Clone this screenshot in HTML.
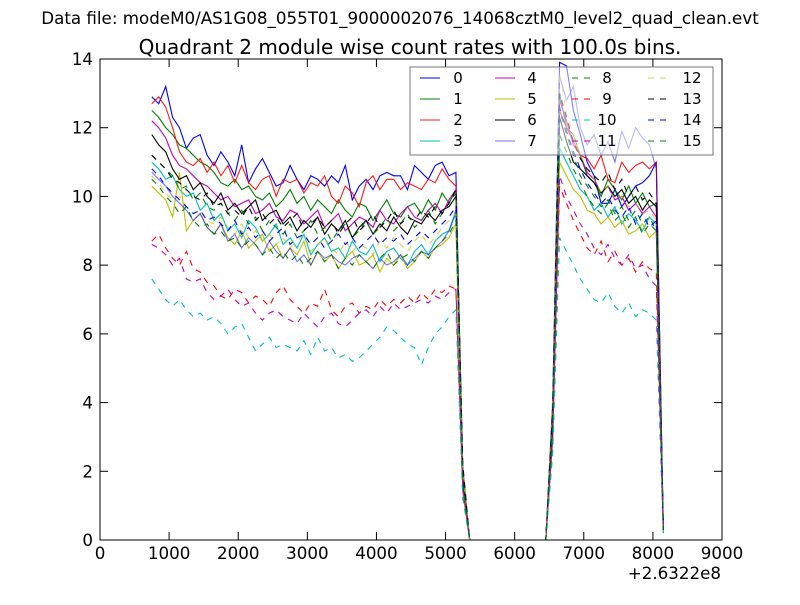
<!DOCTYPE html>
<html><head><meta charset="utf-8"><style>
body{margin:0;background:#fff;}
svg text{font-family:"DejaVu Sans","Liberation Sans",sans-serif;}
</style></head><body>
<svg id="chart" width="800" height="600" xmlns="http://www.w3.org/2000/svg">
<rect width="800" height="600" fill="#fff"/>
<text x="400" y="24" font-size="16.7" text-anchor="middle">Data file: modeM0/AS1G08_055T01_9000002076_14068cztM0_level2_quad_clean.evt</text>
<text x="410" y="54" font-size="20" text-anchor="middle">Quadrant 2 module wise count rates with 100.0s bins.</text>
<g id="plot"></g>
<rect x="100" y="59" width="622" height="481" fill="none" stroke="#000" stroke-width="1"/>
<text x="721" y="579" font-size="16.7" text-anchor="end">+2.6322e8</text>
<g id="legend"></g>
</svg>
<script>
const times=[750,850,950,1050,1150,1250,1350,1450,1550,1650,1750,1850,1950,2050,2150,2250,2350,2450,2550,2650,2750,2850,2950,3050,3150,3250,3350,3450,3550,3650,3750,3850,3950,4050,4150,4250,4350,4450,4550,4650,4750,4850,4950,5050,5150,5250,5350,5450,5550,5650,5750,5850,5950,6050,6150,6250,6350,6450,6550,6650,6750,6850,6950,7050,7150,7250,7350,7450,7550,7650,7750,7850,7950,8050,8150];
const zeros=[0,0,0,0,0,0,0,0,0,0,0,0];
const dropV=[1.8,1.6,2.1,1.5,1.9,1.4,1.7,1.6,2.0,1.3,1.2,1.5,1.9,2.2,1.7,1.6];
const riseV=[4.0,3.5,3.8,3.0,3.6,2.9,3.4,3.9,3.7,2.8,2.5,3.0,4.2,3.8,3.6,3.3];
const endV=[0.3,0.4,0.3,0.2,0.3,0.2,0.3,0.4,0.5,0.3,0.2,0.3,0.4,0.3,0.4,0.3];
const pre=[
[12.9,12.7,13.2,12.3,12.0,11.4,11.7,11.8,11.2,10.9,11.3,11.0,10.6,11.5,10.4,10.8,11.1,10.7,10.3,10.4,10.9,10.5,10.2,10.6,10.5,10.3,10.6,10.4,10.9,9.9,10.3,10.5,10.2,10.6,10.7,10.6,10.6,10.2,10.9,10.7,10.5,10.9,11.0,10.6,10.7],
[12.5,12.3,12.0,11.8,11.5,11.4,11.2,11.0,10.9,10.7,10.4,10.3,10.5,10.2,10.3,10.0,9.9,10.1,9.7,9.9,10.2,9.8,10.0,9.6,9.9,9.7,9.5,9.9,9.6,9.4,9.8,9.7,9.3,9.6,9.9,9.5,9.4,9.7,9.8,9.5,9.9,9.6,10.1,9.8,10.2],
[12.7,12.9,12.6,12.0,11.3,11.0,10.9,11.1,10.7,11.0,10.6,10.9,10.4,10.9,10.4,10.2,10.5,10.6,10.0,10.5,10.4,10.5,10.1,10.4,10.3,10.6,10.0,9.8,10.3,10.1,9.7,10.4,10.6,10.2,10.5,10.5,10.2,10.4,10.3,10.2,10.5,10.4,10.8,10.5,10.3],
[11.0,10.8,10.5,10.6,10.2,10.0,10.1,9.6,9.8,9.3,9.5,9.0,9.2,8.8,9.3,9.1,8.7,8.9,9.2,8.6,8.8,8.5,8.9,8.3,8.6,8.8,8.4,8.5,8.2,8.7,8.4,8.3,8.6,8.1,8.4,8.5,8.2,8.0,8.4,8.6,8.3,8.7,8.9,9.0,9.5],
[12.2,12.0,11.7,11.2,10.9,10.8,10.6,10.4,10.3,10.1,9.9,10.0,9.7,9.8,9.9,9.5,9.6,9.8,9.4,9.3,9.6,9.5,9.2,9.4,9.6,9.1,9.3,9.5,9.0,9.2,9.4,9.3,9.1,9.6,9.3,9.2,9.5,9.7,9.4,9.3,9.6,9.8,9.5,9.9,10.2],
[10.3,10.1,9.9,9.4,10.7,9.0,9.3,9.5,9.1,8.9,9.2,8.8,8.6,9.0,8.5,8.7,8.9,8.4,8.6,8.2,8.5,8.3,8.7,8.0,8.4,8.1,8.3,7.9,8.2,8.4,8.0,8.1,8.3,7.8,8.2,8.0,8.3,7.9,8.1,8.4,8.2,8.5,8.6,8.8,9.2],
[11.8,11.5,11.3,10.8,10.5,10.6,10.2,10.4,10.0,9.8,10.1,9.6,9.8,9.5,9.7,9.9,9.3,9.5,9.6,9.2,9.4,9.0,9.3,9.1,9.4,8.9,9.2,9.0,9.3,8.8,9.1,9.3,8.9,9.2,9.0,9.4,9.1,8.9,9.3,9.2,9.5,9.3,9.6,9.7,10.0],
[10.7,10.5,10.3,10.0,9.8,9.6,9.3,9.5,9.1,8.9,9.2,8.7,8.9,8.5,8.8,8.6,8.3,8.7,8.4,8.2,8.5,8.1,8.3,8.0,8.4,8.2,8.3,8.1,8.0,8.2,8.3,8.1,7.9,8.2,8.0,8.1,8.3,8.0,8.2,8.4,8.3,8.5,8.7,9.0,9.6],
[11.2,11.0,10.8,10.6,10.2,10.3,9.9,10.1,9.7,9.6,9.8,9.5,9.3,9.6,9.2,9.4,9.0,9.3,9.1,8.9,9.2,8.8,9.0,9.3,8.9,9.1,8.7,9.0,9.2,8.8,9.0,9.3,8.9,9.1,9.4,9.0,9.2,9.5,9.1,9.3,9.6,9.2,9.5,9.8,10.1],
[8.7,8.9,8.5,8.2,8.0,8.4,7.9,7.8,7.5,7.4,7.1,7.0,7.3,7.2,6.9,7.1,7.0,6.8,7.2,7.4,7.0,6.8,6.6,6.9,6.8,7.3,6.7,6.5,6.8,6.9,6.6,6.8,6.7,7.0,6.8,7.0,6.9,7.1,6.9,7.2,7.0,7.3,7.2,7.4,7.3],
[7.6,7.3,7.0,6.8,7.0,6.7,6.5,6.6,6.4,6.5,6.3,6.0,6.2,6.3,5.9,5.5,5.7,5.9,5.6,5.7,5.6,5.5,5.8,5.4,5.9,5.5,5.6,5.3,5.4,5.2,5.3,5.5,5.7,5.9,6.2,6.1,5.9,5.7,5.6,5.1,5.6,6.0,6.2,6.5,6.7],
[8.6,8.5,8.3,8.0,8.2,7.6,7.5,7.6,7.2,7.0,7.1,7.3,7.0,6.8,6.9,6.6,6.4,6.6,6.7,6.5,6.4,6.3,6.6,6.4,6.2,6.5,6.6,6.3,6.2,6.4,6.6,6.7,6.5,6.8,6.6,6.9,6.7,6.8,6.9,7.0,6.9,7.1,7.0,7.2,7.3],
[10.6,10.4,10.1,9.9,10.0,9.7,9.5,9.6,9.3,9.2,9.4,9.1,8.9,9.2,8.8,9.0,8.7,8.9,8.6,8.8,8.5,8.7,8.9,8.4,8.6,8.8,8.5,8.3,8.7,8.4,8.6,8.5,8.3,8.7,8.5,8.8,8.6,8.4,8.7,8.9,8.6,8.8,9.1,9.3,9.5],
[11.2,11.0,10.8,10.5,10.4,10.2,10.0,9.9,10.1,9.7,9.8,9.5,9.6,9.4,9.7,9.3,9.5,9.2,9.4,9.1,9.3,9.5,9.0,9.2,9.4,9.1,9.3,8.9,9.2,9.4,9.0,9.2,9.5,9.1,9.3,9.6,9.2,9.4,9.3,9.6,9.4,9.7,9.5,9.8,10.2],
[10.8,10.6,10.3,10.1,9.9,9.7,9.5,9.6,9.3,9.4,9.2,9.0,9.3,8.9,9.1,8.8,9.0,8.7,8.9,9.1,8.6,8.8,8.9,8.6,8.8,8.5,8.7,8.9,8.6,8.8,8.5,8.7,8.9,8.6,8.8,8.7,8.9,8.6,8.8,9.0,8.8,9.0,9.2,9.4,9.7],
[10.5,10.3,10.0,9.8,9.5,9.7,9.3,9.1,9.2,8.9,9.0,8.7,8.8,8.5,8.7,8.6,8.3,8.5,8.2,8.4,8.1,8.3,8.0,8.2,8.4,8.1,8.3,7.9,8.2,8.0,8.3,8.1,7.9,8.2,8.4,8.0,8.2,8.3,8.1,8.4,8.2,8.5,8.7,8.9,9.3]
];
const post=[
[13.9,13.8,12.5,11.8,11.0,10.6,9.8,9.8,10.2,9.7,10.0,10.3,10.4,10.6,11.0],
[13.0,12.0,11.8,11.2,10.6,10.4,10.0,10.5,10.2,9.9,10.3,9.8,10.1,9.7,9.8],
[12.5,12.0,11.6,11.2,11.1,10.8,11.2,10.5,10.4,11.0,10.7,10.9,11.0,10.8,11.0],
[11.4,11.0,10.6,10.2,10.0,9.6,9.8,9.4,9.7,9.2,9.5,9.3,9.0,9.4,9.2],
[12.8,12.2,11.5,11.2,10.7,10.5,10.1,10.3,9.9,10.0,9.6,9.8,9.5,9.7,9.4],
[11.0,10.6,10.2,10.0,9.6,9.5,9.2,9.4,9.1,9.3,8.9,9.0,9.2,8.8,9.0],
[12.3,11.6,11.0,10.8,10.6,10.4,10.1,10.3,10.0,10.2,9.8,10.0,9.6,9.9,9.7],
[13.5,12.8,13.2,12.0,11.5,11.8,11.2,11.6,11.0,11.9,11.4,12.0,11.7,11.5,10.8],
[12.5,11.8,11.2,10.6,10.3,10.0,9.7,9.9,9.5,9.7,9.3,9.6,9.2,9.4,9.0],
[10.3,9.8,9.3,8.9,8.5,8.3,8.7,8.1,8.4,8.0,8.2,7.8,8.1,7.9,7.8],
[8.8,8.4,8.0,7.6,7.3,7.0,6.9,7.2,6.8,6.6,6.9,6.5,6.7,6.6,6.4],
[10.6,10.0,9.6,9.2,8.9,8.5,8.3,8.6,8.2,8.0,8.3,7.9,8.0,7.6,7.4],
[13.6,12.4,11.8,11.2,10.8,10.5,10.1,10.3,9.9,10.0,9.7,9.8,9.5,9.6,9.3],
[13.0,12.3,11.6,11.1,10.8,10.6,10.4,10.7,10.2,10.5,10.0,10.3,9.9,10.1,9.8],
[12.6,11.9,11.3,10.8,10.4,10.1,9.8,10.0,9.6,9.4,9.7,9.2,9.5,9.1,9.3],
[11.8,11.3,10.8,10.4,10.0,9.7,9.5,9.8,9.3,9.5,9.1,9.4,8.9,9.2,9.0]
];
const labels=['0','1','2','3','4','5','6','7','8','9','10','11','12','13','14','15'];
const xTicks=[0,1000,2000,3000,4000,5000,6000,7000,8000,9000];
const yTicks=[0,2,4,6,8,10,12,14];
const colors=['#0000ff','#008000','#ff0000','#00bfbf','#bf00bf','#bfbf00','#000000','#0000ff','#008000','#ff0000','#00bfbf','#bf00bf','#bfbf00','#000000','#0000ff','#008000'];
const opac=[1,1,0.9,1,1,1,1,0.55,1,1,1,1,0.7,1,1,1];
const NS='http://www.w3.org/2000/svg';
const X=v=>100+v*622/9000, Y=v=>540-v*481/14;
const plot=document.getElementById('plot');
function mk(tag,attrs,parent){const e=document.createElementNS(NS,tag);for(const k in attrs)e.setAttribute(k,attrs[k]);parent.appendChild(e);return e;}
xTicks.forEach(t=>{
  const x=X(t);
  const a=mk('line',{x1:x,x2:x,y1:540,y2:532,stroke:'#000'},plot);
  
  
  const b=mk('line',{x1:x,x2:x,y1:59,y2:67,stroke:'#000'},plot);
  
  
  const l=mk('text',{x:x,y:559,'font-size':16.7,'text-anchor':'middle'},plot);l.textContent=t;
  
  
});
yTicks.forEach(t=>{
  const y=Y(t);
  const a=mk('line',{x1:100,x2:108,y1:y,y2:y,stroke:'#000'},plot);
  
  
  const b=mk('line',{x1:714,x2:722,y1:y,y2:y,stroke:'#000'},plot);
  
  
  const l=mk('text',{x:93,y:y+6,'font-size':16.7,'text-anchor':'end'},plot);l.textContent=t;
  
  
});
for(let i=0;i<16;i++){
  const vals=[...pre[i],dropV[i],...zeros,riseV[i],...post[i],endV[i]];
  const pts=vals.map((v,j)=>X(times[j]).toFixed(1)+','+Y(v).toFixed(1)).join(' ');
  const p=mk('polyline',{points:pts,fill:'none',stroke:colors[i],'stroke-width':1.1,'stroke-opacity':opac[i]},plot);
  if(i>=8)p.setAttribute('stroke-dasharray','6,6');
  
  
}
const lg=document.getElementById('legend');
const box=mk('rect',{x:410,y:67,width:303,height:88,fill:'#fff','fill-opacity':0.5,stroke:'#777','stroke-width':1},lg);


const colX=[420,495,572,648], txtX=[458,532,607,692], rowY=[78,99,120,141];
for(let i=0;i<16;i++){
  const c=Math.floor(i/4), r=i%4;
  const ln=mk('line',{x1:colX[c],x2:colX[c]+20,y1:rowY[r],y2:rowY[r],stroke:colors[i],'stroke-width':1.1,'stroke-opacity':opac[i]},lg);
  if(i>=8)ln.setAttribute('stroke-dasharray','6,6');
  
  
  const t=mk('text',{x:txtX[c],y:rowY[r]+5,'font-size':15,'text-anchor':'middle'},lg);t.textContent=labels[i];
  
  
}
</script>
</body></html>
